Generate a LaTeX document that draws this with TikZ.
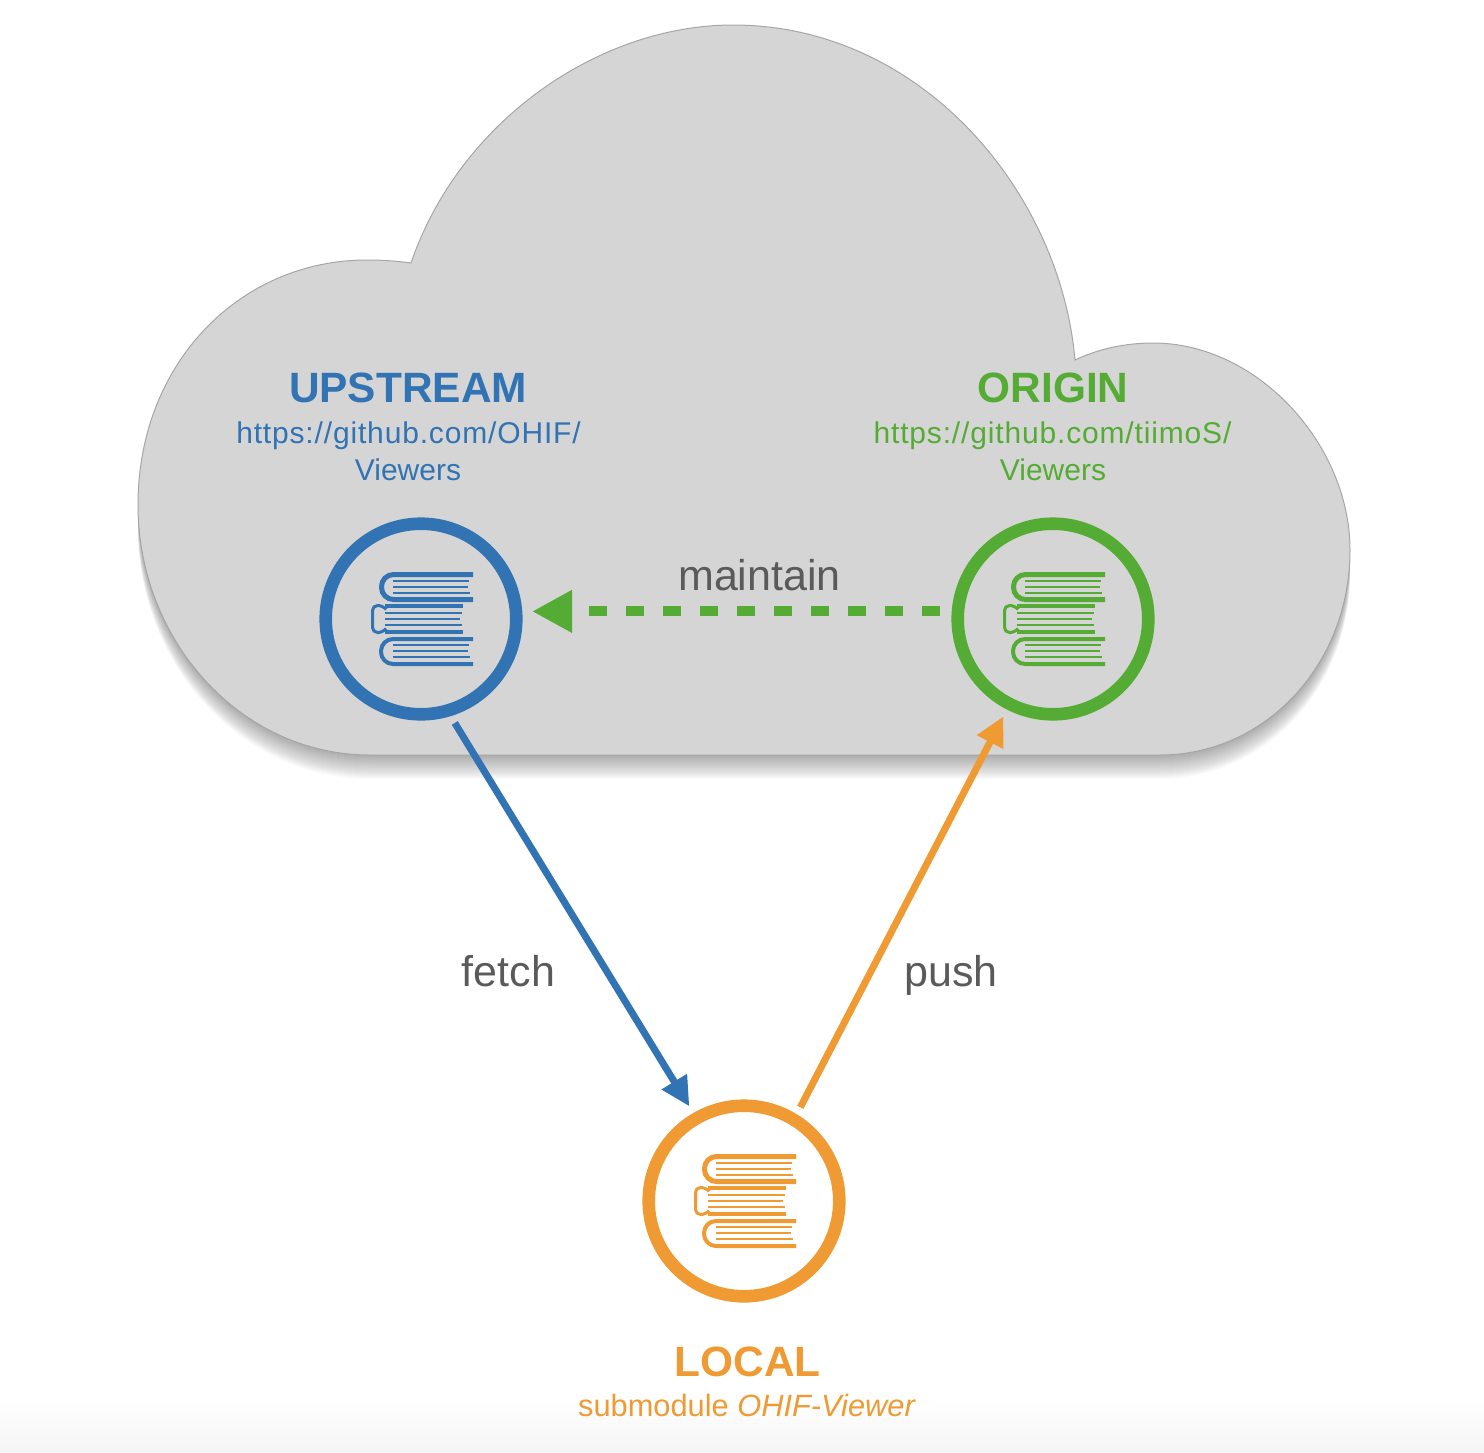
\documentclass[tikz,border=0pt]{standalone}
\usepackage{fontspec}
\setmainfont{Liberation Sans}
\usepackage{xcolor}
\usetikzlibrary{arrows.meta}
\definecolor{upblue}{HTML}{3173B3}
\definecolor{origreen}{HTML}{55AC34}
\definecolor{locorange}{HTML}{F09A33}
\definecolor{cloudgray}{HTML}{D5D5D5}
\definecolor{labgray}{HTML}{5A5A5A}
\newcommand{\cloudpath}{(411,263) .. controls (460,120) and (600,25) .. (733,25)
	.. controls (920,25) and (1060,190) .. (1075,360)
	.. controls (1098,349) and (1125,343) .. (1153,343)
	.. controls (1258,343) and (1350,445) .. (1350,550)
	.. controls (1350,665) and (1265,755) .. (1160,755)
	-- (370,755)
	.. controls (240,755) and (138,640) .. (138,505)
	.. controls (138,363) and (240,260) .. (367,260)
	.. controls (382,260) and (397,261) .. (411,263) -- cycle}
\tikzset{
	repo/.style={circle,draw,line width=6.3pt,minimum size=95.3pt,outer sep=7pt,inner sep=0pt},
	title/.style={anchor=base,font=\fontsize{21.2}{25}\selectfont\bfseries},
	url/.style={anchor=base,font=\fontsize{15}{18}\selectfont},
	wideurl/.style={anchor=base,font=\fontsize{15}{18}\selectfont\addfontfeature{LetterSpace=2.8}},
	lab/.style={anchor=base,font=\fontsize{21.5}{25}\selectfont,text=labgray},
	flow/.style={-{Triangle[length=14.5pt,width=14pt]},line width=3.5pt},
	bookstack/.pic={
		\draw[line width=2.5pt,rounded corners=6pt] (52,-44.5) -- (-39.5,-44.5) -- (-39.5,-19.5) -- (52,-19.5);
		\foreach \y/\e in {-38/48,-32/47,-26/49} \draw[line width=1pt] (-28,\y) -- (\e,\y);
		\fill (-36,-15) rectangle (42,-11);
		\fill (-36,11) rectangle (42,15);
		\draw[line width=1.5pt,rounded corners=2.5pt] (-36,-11) -- (-38,-13.5) -- (-48.5,-13.5) -- (-48.5,13.5) -- (-38,13.5) -- (-36,11);
		\foreach \y/\e in {-6/41,0/39,6/41} \draw[line width=1pt] (-36,\y) -- (\e,\y);
		\draw[line width=2pt,rounded corners=6pt] (52,20) -- (-40,20) -- (-40,45) -- (52,45);
		\foreach \y/\e in {26/48,32/47,38/49} \draw[line width=.6pt] (-28,\y) -- (\e,\y);
	}
}
\begin{document}
\begin{tikzpicture}[x=0.5pt,y=-0.5pt]
	\useasboundingbox (0,0) rectangle (1484,1452);
	\shade[top color=white,bottom color=black!4] (0,1400) rectangle (1484,1452);
	% soft shadow of the cloud
	\foreach \s in {0.5,1,...,12}
		\fill[black,opacity=.015,yshift=-\s pt] \cloudpath;
	\filldraw[fill=cloudgray,draw=black!35,line width=.5pt] \cloudpath;

	\node[repo,draw=upblue] (upstream) at (421,619) {};
	\node[repo,draw=origreen] (origin) at (1053,619) {};
	\node[repo,draw=locorange] (local) at (744,1201) {};
	\pic[color=upblue] at (upstream.center) {bookstack};
	\pic[color=origreen] at (origin.center) {bookstack};
	\pic[color=locorange] at (local.center) {bookstack};

	\node[title,text=upblue] (upstreamtitle) at (408,402) {UPSTREAM};
	\node[wideurl,text=upblue] (upstreamurl) at (408.5,443) {https://github.com/OHIF/};
	\node[url,text=upblue] (upstreamview) at (408,480) {Viewers};
	\node[title,text=origreen] (origintitle) at (1053,402) {ORIGIN};
	\node[wideurl,text=origreen] (originurl) at (1052.5,443) {https://github.com/tiimoS/};
	\node[url,text=origreen] (originview) at (1053,480) {Viewers};
	\node[title,text=locorange] (localtitle) at (747.5,1376) {LOCAL};
	\node[url,font=\fontsize{15.4}{18}\selectfont,text=locorange] (localsub) at (747,1416) {submodule \textit{OHIF-Viewer}};

	\node[lab] (maintain) at (759.5,590) {maintain};
	\node[lab] (fetch) at (508.5,986) {fetch};
	\node[lab] (push) at (951,986) {push};

	\draw[flow,upblue] (upstream.-72) -- (local.120);
	\draw[flow,locorange] (local.59) -- (origin.-117);
	\draw[-{Triangle[length=20pt,width=20pt]},line width=5pt,origreen,dash pattern=on 9pt off 9.5pt] ([xshift=-2pt]origin.176) -- ([xshift=1pt]upstream.4);
\end{tikzpicture}
\end{document}
